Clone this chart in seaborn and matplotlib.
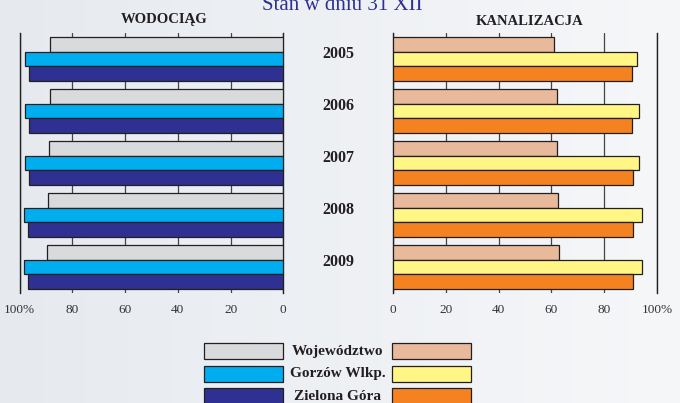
import matplotlib.pyplot as plt
import numpy as np
import pandas as pd
import seaborn as sns
from matplotlib.patches import Rectangle

sns.set_style('white')
plt.rcParams['font.family'] = ['Liberation Serif', 'DejaVu Serif']

# dane (%)
years = ['2005', '2006', '2007', '2008', '2009']
series = ['Województwo', 'Gorzów Wlkp.', 'Zielona Góra']
wod_woj = [88.4, 88.4, 88.8, 89.4, 89.5]
wod_gorz = [97.9, 97.9, 97.9, 98.2, 98.2]
wod_zg = [96.5, 96.3, 96.5, 96.9, 96.7]
kan_woj = [61.1, 62.0, 62.2, 62.6, 63.0]
kan_gorz = [92.5, 93.0, 93.0, 94.1, 94.1]
kan_zg = [90.6, 90.6, 90.7, 90.7, 90.7]
ticks = [0, 20, 40, 60, 80, 100]
tick_labels = ['0', '20', '40', '60', '80', '100%']

wod_colors = ['#d9dadc', '#00aeef', '#2e3192']
kan_colors = ['#e8b99a', '#fff685', '#f58220']


def make_df(a, b, c):
    rows = []
    for vals, s in zip([a, b, c], series):
        for y, v in zip(years, vals):
            rows.append({'rok': y, 'seria': s, 'wartosc': v})
    return pd.DataFrame(rows)


W, H = 680, 403
fig = plt.figure(figsize=(W / 100, H / 100), dpi=100)

# tło z delikatnym gradientem
bg = fig.add_axes([0, 0, 1, 1], zorder=0)
grad = np.linspace(0, 1, 256).reshape(1, -1)
bg.imshow(grad, aspect='auto', cmap=sns.blend_palette(['#e6eaef', '#f6f7f9'], as_cmap=True),
          extent=[0, 1, 0, 1])
bg.axis('off')

ax1 = fig.add_axes([19.7 / W, 1 - 293 / H, 263.6 / W, 260 / H], zorder=1)
ax2 = fig.add_axes([392.7 / W, 1 - 293 / H, 264.6 / W, 260 / H], zorder=1)

for ax, df, cols in [(ax1, make_df(wod_woj, wod_gorz, wod_zg), wod_colors),
                     (ax2, make_df(kan_woj, kan_gorz, kan_zg), kan_colors)]:
    ax.patch.set_alpha(0)
    sns.barplot(data=df, y='rok', x='wartosc', hue='seria', hue_order=series,
                order=years, orient='h', palette=cols, saturation=1, width=0.846,
                edgecolor='#231f20', linewidth=0.9, legend=False, ax=ax, zorder=3)
    ax.set_xticks(ticks)
    ax.set_xticklabels(tick_labels, fontsize=9.5, color='#333333')
    ax.tick_params(axis='x', length=0, pad=8)
    ax.set_yticks([])
    ax.set_xlabel('')
    ax.set_ylabel('')
    ax.grid(axis='x', color='#444444', linewidth=0.9)
    ax.set_axisbelow(True)
    for side in ['top', 'bottom']:
        ax.spines[side].set_visible(False)
    for side in ['left', 'right']:
        ax.spines[side].set_color('#222222')
        ax.spines[side].set_linewidth(1)

ax1.set_xlim(100, 0)
ax2.set_xlim(0, 100)

# etykiety lat między wykresami
for i, y in enumerate(years):
    ax2.text(-0.205, i - 0.1, y, transform=ax2.get_yaxis_transform(),
             ha='center', va='center', fontsize=11.5, fontweight='bold', color='#231f20')

# napisy i legenda
ov = fig.add_axes([0, 0, 1, 1], zorder=2)
ov.set_xlim(0, W)
ov.set_ylim(H, 0)
ov.axis('off')
ov.text(342, 10, 'Stan w dniu 31 XII', ha='center', va='baseline', fontsize=15,
        color='#2e3192')
ov.text(164.5, 22.7, 'WODOCIĄG', ha='center', va='baseline', fontsize=10.5,
        fontweight='bold', color='#231f20')
ov.text(530, 25, 'KANALIZACJA', ha='center', va='baseline', fontsize=10.5,
        fontweight='bold', color='#231f20')

row_top = [343.3, 366, 388.3]
for i, s in enumerate(series):
    ov.add_patch(Rectangle((204, row_top[i]), 79, 16, facecolor=wod_colors[i],
                           edgecolor='#231f20', linewidth=0.9))
    ov.add_patch(Rectangle((392.3, row_top[i]), 78.7, 16, facecolor=kan_colors[i],
                           edgecolor='#231f20', linewidth=0.9))
    ov.text(337.7, row_top[i] + 8, s, ha='center', va='center', fontsize=11,
            fontweight='bold', color='#231f20')

fig.savefig('out.png', dpi=100)
